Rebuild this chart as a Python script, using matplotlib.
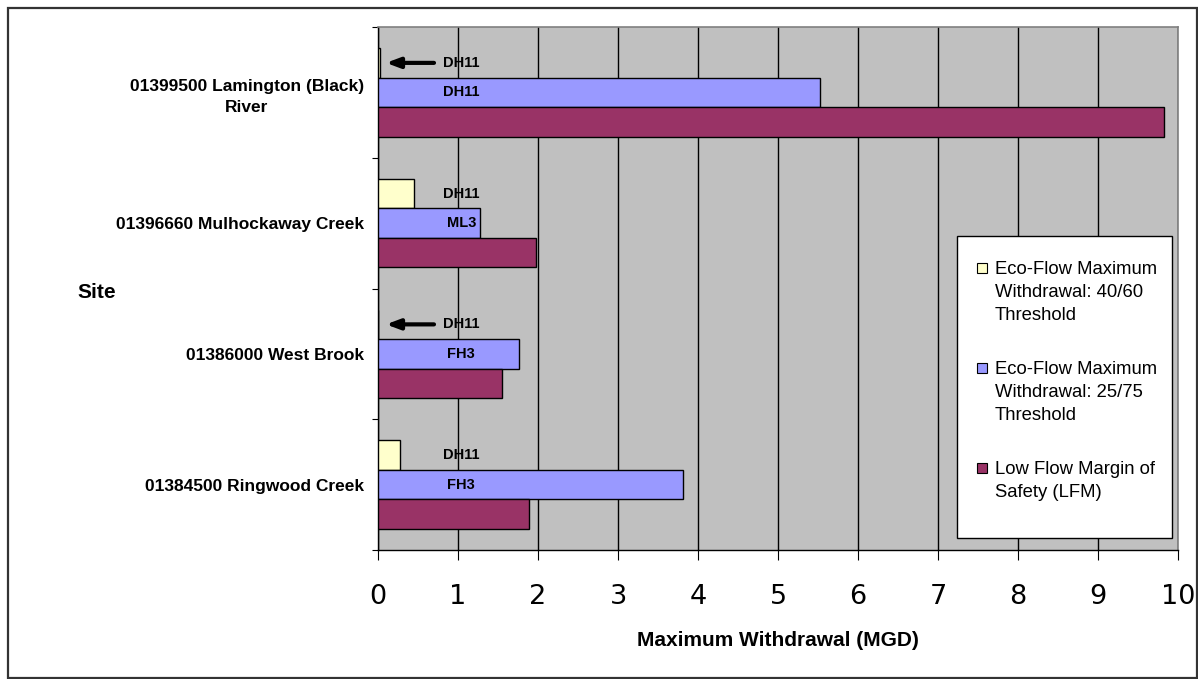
import matplotlib
matplotlib.use("Agg")
import matplotlib.pyplot as plt
from matplotlib.patches import Rectangle
import numpy as np

sites = ["01399500 Lamington (Black)\nRiver", "01396660 Mulhockaway Creek",
         "01386000 West Brook", "01384500 Ringwood Creek"]
eco_40_60 = [0.03, 0.455, 0.0, 0.28]
eco_25_75 = [5.52, 1.28, 1.76, 3.81]
lfm = [9.83, 1.975, 1.55, 1.89]
labels_40_60 = ["DH11", "DH11", "DH11", "DH11"]
labels_25_75 = ["DH11", "ML3", "FH3", "FH3"]
arrow_sites = [0, 2]
series_names = ["Eco-Flow Maximum\nWithdrawal: 40/60\nThreshold",
                "Eco-Flow Maximum\nWithdrawal: 25/75\nThreshold",
                "Low Flow Margin of\nSafety (LFM)"]
colors = ["#FFFFCC", "#9999FF", "#993366"]
xticks = list(range(0, 11))

W, H = 1198, 679
fig = plt.figure(figsize=(W / 100, H / 100), dpi=100)
plt.rcParams['font.family'] = ['Liberation Sans', 'DejaVu Sans']

def fx(px): return px / W
def fy(py): return 1 - py / H

left, right, top, bottom = 378, 1178, 27, 550
ax = fig.add_axes([fx(left), fy(bottom), fx(right) - fx(left), fy(top) - fy(bottom)])
ax.set_facecolor("#C0C0C0")

n = len(sites)
ypos = np.arange(n)[::-1].astype(float)  # top site at highest y
h = 0.2256
ax.barh(ypos + h, eco_40_60, height=h, color=colors[0], edgecolor="black", linewidth=1, zorder=3)
ax.barh(ypos, eco_25_75, height=h, color=colors[1], edgecolor="black", linewidth=1, zorder=3)
ax.barh(ypos - h, lfm, height=h, color=colors[2], edgecolor="black", linewidth=1, zorder=3)

for i in range(n):
    ax.text(1.04, ypos[i] + h, labels_40_60[i], ha="center", va="center",
            fontsize=10.5, fontweight="bold", zorder=5)
    ax.text(1.04, ypos[i], labels_25_75[i], ha="center", va="center",
            fontsize=10.5, fontweight="bold", zorder=5)
for i in arrow_sites:
    ax.annotate("", xy=(0.1, ypos[i] + h), xytext=(0.7, ypos[i] + h),
                arrowprops=dict(arrowstyle="-|>,head_length=0.8,head_width=0.3",
                                color="black", lw=3, shrinkA=0, shrinkB=0), zorder=5)

ax.set_xlim(0, 10)
ax.set_ylim(-0.5, n - 0.5)
ax.set_xticks(xticks)
ax.set_xticklabels([str(t) for t in xticks], fontsize=19.5, family="DejaVu Sans")
ax.grid(axis="x", color="black", linewidth=1, zorder=1)
ax.set_axisbelow(True)

ax.set_yticks(np.arange(-0.5, n, 1.0))
ax.set_yticklabels([])
ax.set_yticks(ypos, minor=True)
ax.set_yticklabels(sites, minor=True, fontsize=12.5, fontweight="bold",
                   multialignment="center", linespacing=1.5)
ax.tick_params(axis="y", which="minor", length=0, pad=10)
ax.tick_params(axis="y", which="major", length=4.3, direction="out", color="black")
ax.tick_params(axis="x", length=7.2, direction="out", pad=17, color="black")

for s in ["top", "right"]:
    ax.spines[s].set_color("#808080")
    ax.spines[s].set_linewidth(1.2)
for s in ["left", "bottom"]:
    ax.spines[s].set_color("black")
    ax.spines[s].set_linewidth(1)

fig.text(fx(778), fy(640), "Maximum Withdrawal (MGD)", ha="center", va="center",
         fontsize=15, fontweight="bold")
fig.text(fx(97), fy(292), "Site", ha="center", va="center", fontsize=15, fontweight="bold")

# Legend (manual)
fig.patches.append(Rectangle((fx(957), fy(538)), fx(1172) - fx(957), fy(236) - fy(538),
                             transform=fig.transFigure, facecolor="white",
                             edgecolor="black", linewidth=1, zorder=10))
item_tops = [261, 361, 461]
for name, col, ty in zip(series_names, colors, item_tops):
    fig.patches.append(Rectangle((fx(977), fy(ty + 12)), fx(987) - fx(977), fy(ty + 2) - fy(ty + 12),
                                 transform=fig.transFigure, facecolor=col,
                                 edgecolor="black", linewidth=0.8, zorder=11))
    fig.text(fx(995), fy(ty), name, ha="left", va="top", fontsize=13.3,
             linespacing=1.45, zorder=12)

# Outer border
fig.patches.append(Rectangle((fx(8), fy(678)), fx(1197) - fx(8), fy(8) - fy(678),
                             transform=fig.transFigure, facecolor="none",
                             edgecolor="#333333", linewidth=1.6, zorder=20))

fig.savefig("out.png", dpi=100, facecolor="white")
